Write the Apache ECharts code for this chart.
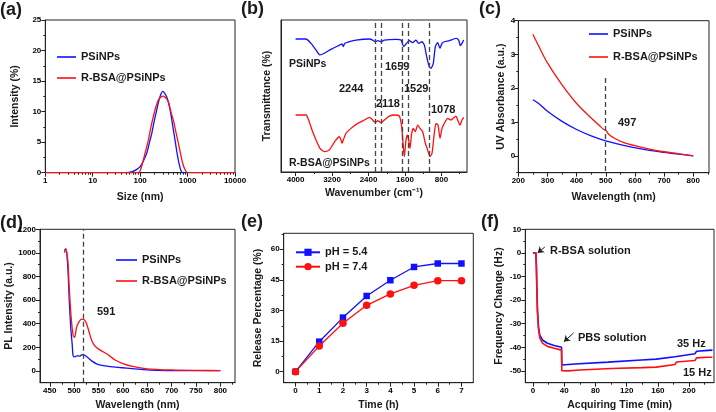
<!DOCTYPE html>
<html><head><meta charset="utf-8">
<script src="https://cdn.jsdelivr.net/npm/echarts@6/dist/echarts.min.js"></script>
<style>html,body{margin:0;padding:0;background:#fff}#c{width:716px;height:412px}</style>
</head><body><div id="c"></div>
<script>
// ---------- (a) DLS size distribution ----------
const aSizeBlue = [1, 50, 70, 85, 100, 115, 138, 160, 176, 200, 224, 250, 275, 300, 330, 364, 400, 442, 490, 545, 600, 661, 720, 792, 10000];
const aIntBlue  = [0, 0, 0.2, 0.55, 1.0, 1.8, 3.2, 5.2, 6.45, 8.6, 10.3, 11.9, 12.9, 13.3, 13.0, 12.4, 11.3, 9.7, 7.5, 5.3, 3.2, 1.5, 0.4, 0, 0];
const aSizeRed  = [1, 92, 105, 117, 130, 149, 170, 190, 215, 242, 275, 308, 350, 393, 445, 501, 570, 640, 720, 792, 870, 991, 10000];
const aIntRed   = [0, 0, 0.8, 2.1, 3.5, 5.35, 7.6, 9.2, 10.8, 11.9, 12.4, 12.55, 12.2, 11.6, 10.0, 8.6, 6.6, 4.8, 2.9, 1.5, 0.6, 0, 0];
const aYTicks = [0, 5, 10, 15, 20, 25];
const aYMinor = [2.5, 7.5, 12.5, 17.5, 22.5];
const aXMinor = [2,3,4,5,6,7,8,9,20,30,40,50,60,70,80,90,200,300,400,500,600,700,800,900,2000,3000,4000,5000,6000,7000,8000,9000];

// ---------- (b) FTIR ----------
const bWnBlue = [4000,3772,3662,3552,3465,3370,3223,3077,2982,2953,2923,2821,2675,2382,2309,2251,2199,2127,2053,1797,1688,1629,1578,1505,1432,1359,1300,1227,1176,1125,1066,1030,979,935,884,832,788,737,628,481,423,386,350,313];
const bTBlue  = [87.5,87.5,84.6,80.3,77.0,78.1,80.7,82.9,84.2,82.5,84.6,85.7,86.8,87.5,86.8,85.7,86.4,85.7,86.8,87.3,86.8,82.5,84.2,86.4,85.1,86.8,84.6,85.7,83.6,75.9,69.3,68.2,71.5,82.5,85.1,81.4,84.6,85.7,86.4,87.9,86.8,83.1,84.6,86.8];
const bWnRed  = [4000,3772,3713,3640,3552,3465,3370,3260,3187,3114,3041,3004,2982,2953,2894,2785,2638,2492,2382,2346,2309,2251,2199,2127,2053,1944,1834,1724,1673,1637,1615,1578,1549,1520,1490,1454,1417,1374,1322,1271,1212,1154,1103,1052,1008,957,920,876,832,788,737,664,591,481,445,394,350,313];
const bTRed   = [37.5,37.5,34.2,27.6,21.1,15.6,13.4,14.5,17.8,21.1,23.2,21.1,18.9,21.1,25.4,28.7,32.0,34.2,36.0,35.3,34.2,32.5,33.8,32.5,34.2,36.8,37.5,36.8,29.8,16.7,10.1,21.1,24.3,21.1,15.6,25.4,28.7,26.5,30.9,28.7,26.5,18.9,14.5,10.1,12.3,25.4,32.0,30.9,22.2,28.7,32.0,35.3,34.2,36.8,34.2,30.9,34.2,36.0];
const bPeaks  = [2244, 2118, 1659, 1529, 1078];
const bXTicks = [4000, 3200, 2400, 1600, 800];
const bXMinor = [3600, 2800, 2000, 1200, 400];

// ---------- (c) UV-Vis ----------
const cWlBlue = [250, 270, 300, 350, 400, 450, 500, 550, 600, 650, 700, 750, 800];
const cAbsBlue = [1.66, 1.55, 1.32, 1.02, 0.78, 0.59, 0.44, 0.33, 0.24, 0.16, 0.10, 0.05, 0.0];
const cWlRed  = [250, 270, 300, 350, 400, 450, 480, 495, 500, 510, 530, 560, 600, 650, 700, 750, 800];
const cAbsRed = [3.6, 3.25, 2.75, 2.1, 1.55, 1.12, 0.88, 0.77, 0.76, 0.64, 0.52, 0.40, 0.30, 0.20, 0.12, 0.06, 0.0];
const cPeak = 497;
const cXTicks = [200, 300, 400, 500, 600, 700, 800];
const cXMinor = [250, 350, 450, 550, 650, 750, 850];
const cYTicks = [0, 1, 2, 3, 4];
const cYMinor = [-0.5, 0.5, 1.5, 2.5, 3.5];

// ---------- (d) PL ----------
const dWlBlue = [480, 483, 487, 490, 493, 496, 498, 502, 505, 512, 515, 520, 526, 536, 546, 560, 580, 608, 642, 690, 800];
const dPlBlue = [1020, 1037, 880, 600, 370, 227, 128, 119, 128, 125, 135, 136, 119, 85, 60, 45, 34, 23, 11, 3, 2];
const dWlRed  = [480, 483, 487, 490, 494, 498, 501, 505, 510, 515, 520, 525, 530, 535, 540, 546, 556, 567, 575, 585, 600, 620, 650, 700, 750, 800];
const dPlRed  = [1000, 1030, 940, 700, 450, 300, 284, 370, 415, 438, 435, 405, 340, 270, 225, 199, 170, 145, 120, 90, 62, 38, 18, 8, 4, 3];
const dLine = 518;
const dXTicks = [450, 500, 550, 600, 650, 700, 750, 800];
const dXMinor = [475, 525, 575, 625, 675, 725, 775, 825];
const dYTicks = [0, 200, 400, 600, 800, 1000, 1200];
const dYMinor = [100, 300, 500, 700, 900, 1100];

// ---------- (e) release ----------
const eTime = [0, 1, 2, 3, 4, 5, 6, 7];
const eRel54 = [0, 14.7, 26.5, 37.1, 44.8, 51.3, 53.0, 53.0];
const eRel74 = [0, 12.6, 23.7, 32.5, 38.1, 42.3, 44.6, 44.6];
const eXTicks = [0, 1, 2, 3, 4, 5, 6, 7];
const eXMinor = [0.5, 1.5, 2.5, 3.5, 4.5, 5.5, 6.5];
const eYTicks = [0, 15, 30, 45, 60];
const eYMinor = [7.5, 22.5, 37.5, 52.5, 67.5];

// ---------- (f) QCM ----------
const fTBlue = [0, 3.5, 4.2, 4.7, 5.6, 6.9, 8.6, 12, 18.4, 27, 36.5, 36.8, 53.6, 96, 139, 158, 159.5, 182, 184, 207.5, 209.7, 224.6, 230];
const fFBlue = [0, 0, -5, -12.9, -24.2, -31.2, -34.8, -36.9, -38.3, -39.2, -40.0, -47.5, -47.1, -46.3, -45.4, -45.0, -44.6, -44.0, -43.2, -42.7, -41.7, -41.3, -41.2];
const fTRed  = [0, 3.5, 4.2, 4.7, 5.6, 6.9, 8.6, 12, 18.4, 27, 36.5, 36.8, 45, 60, 100, 140, 158, 159.5, 182, 184, 207.5, 209.7, 224.6, 230];
const fFRed  = [0, 0, -5.5, -13.5, -25, -32.3, -36, -38.2, -39.6, -40.4, -41.2, -49.9, -50.0, -49.6, -49.0, -48.6, -48.4, -47.9, -47.3, -46.2, -45.6, -44.5, -44.2, -44.2];
const fXTicks = [0, 40, 80, 120, 160, 200];
const fXMinor = [20, 60, 100, 140, 180, 220];
const fYTicks = [-50, -40, -30, -20, -10, 0, 10];
const fYMinor = [-45, -35, -25, -15, -5, 5];

const FF = '"Liberation Sans", Arial, sans-serif';
const BLUE = '#1010ff', RED = '#ff1010', INK = '#1a1a1a';
const zip = (xs, ys) => xs.map((x, i) => [x, ys[i]]);

const grids = [], xAxes = [], yAxes = [], series = [];
const nameStyle = {fontSize: 10.5, fontWeight: 'bold', color: INK, fontFamily: FF};
const lblStyle = {color: '#000', fontSize: 8, fontWeight: 'bold', fontFamily: FF};

function panel(o) {
  const gi = grids.length;
  grids.push({left: o.l, top: o.t, width: o.w, height: o.h, show: true, borderColor: '#222', borderWidth: 1, backgroundColor: 'rgba(0,0,0,0)'});
  const xi = xAxes.length, yi = yAxes.length;
  const xMaj = {
    gridIndex: gi, type: o.xType || 'value', min: o.xMin, max: o.xMax, inverse: !!o.xInv, position: 'bottom',
    axisLine: {show: true, onZero: false, lineStyle: {color: '#222', width: 1}},
    axisTick: {show: true, length: 4, lineStyle: {color: '#222'}},
    axisLabel: Object.assign({show: true, margin: 4, formatter: v => String(+v.toFixed(6))}, lblStyle),
    splitLine: {show: false},
    name: o.xName, nameLocation: 'middle', nameGap: o.xGap, nameTextStyle: nameStyle
  };
  if (o.xType === 'log') xMaj.logBase = 10;
  else { xMaj.axisTick.customValues = o.xMajor; xMaj.axisLabel.customValues = o.xMajor; }
  xAxes.push(xMaj);
  const xMin = {
    gridIndex: gi, type: o.xType || 'value', min: o.xMin, max: o.xMax, inverse: !!o.xInv, position: 'bottom',
    axisLine: {show: false, onZero: false}, axisLabel: {show: false}, splitLine: {show: false},
    axisTick: {show: true, length: 2, lineStyle: {color: '#222'}, customValues: o.xMinor}
  };
  if (o.xType === 'log') xMin.logBase = 10;
  xAxes.push(xMin);
  const yMaj = {
    gridIndex: gi, type: 'value', min: o.yMin, max: o.yMax, position: 'left',
    axisLine: {show: true, onZero: false, lineStyle: {color: '#222', width: 1}},
    axisTick: {show: !!o.yMajor, length: 4, lineStyle: {color: '#222'}, customValues: o.yMajor || []},
    axisLabel: Object.assign({show: !!o.yMajor, margin: o.yMargin || 4, customValues: o.yMajor || [], formatter: v => String(+v.toFixed(6))}, lblStyle),
    splitLine: {show: false},
    name: o.yName, nameLocation: 'middle', nameGap: o.yGap, nameTextStyle: nameStyle
  };
  yAxes.push(yMaj);
  yAxes.push({
    gridIndex: gi, type: 'value', min: o.yMin, max: o.yMax, position: 'left',
    axisLine: {show: false, onZero: false}, axisLabel: {show: false}, splitLine: {show: false},
    axisTick: {show: !!o.yMinor, length: 2, lineStyle: {color: '#222'}, customValues: o.yMinor || []}
  });
  return {xi, yi};
}

function line(ax, name, data, color, extra) {
  const s = Object.assign({
    type: 'line', name, data, xAxisIndex: ax.xi, yAxisIndex: ax.yi,
    symbol: 'none', showSymbol: false, color,
    lineStyle: {color, width: 1.3}, silent: true, animation: false
  }, extra || {});
  series.push(s);
  return s;
}
const dash = {type: [5, 3], color: '#444', width: 1.3};

// (a)
const A = panel({l: 45.3, t: 20, w: 189.7, h: 152.7, xType: 'log', xMin: 1, xMax: 10000, xMinor: aXMinor,
  yMin: 0, yMax: 25, yMajor: aYTicks, yMinor: aYMinor, xName: 'Size (nm)', xGap: 18.5, yName: 'Intensity (%)', yGap: 25});
line(A, 'PSiNPs', zip(aSizeBlue, aIntBlue), BLUE, {smooth: 0.3});
line(A, 'R-BSA@PSiNPs', zip(aSizeRed, aIntRed), RED, {smooth: 0.3});

// (b)
const B = panel({l: 281, t: 20, w: 186, h: 152, xMin: 240, xMax: 4320, xInv: true, xMajor: bXTicks, xMinor: bXMinor,
  yMin: 0, yMax: 100, xName: 'Wavenumber (cm⁻¹)', xGap: 16, yName: 'Transmittance (%)', yGap: 8});
line(B, 'b-PSiNPs', zip(bWnBlue, bTBlue), BLUE, {smooth: 0.2,
  markLine: {silent: true, symbol: 'none', label: {show: false}, lineStyle: dash, animation: false,
    data: bPeaks.map(v => ({xAxis: v}))}});
line(B, 'b-R-BSA@PSiNPs', zip(bWnRed, bTRed), RED, {smooth: 0.2});

// (c)
const C = panel({l: 518.3, t: 20.7, w: 190.7, h: 152, xMin: 200, xMax: 854, xMajor: cXTicks, xMinor: cXMinor,
  yMin: -0.5, yMax: 4, yMajor: cYTicks, yMinor: cYMinor, yMargin: 3, xName: 'Wavelength (nm)', xGap: 18.5, yName: 'UV Absorbance (a.u.)', yGap: 6});
line(C, 'PSiNPs', zip(cWlBlue, cAbsBlue), BLUE, {smooth: 0.4});
line(C, 'R-BSA@PSiNPs', zip(cWlRed, cAbsRed), RED, {smooth: 0.3,
  markLine: {silent: true, symbol: 'none', label: {show: false}, lineStyle: dash, animation: false,
    data: [[{coord: [cPeak, 2.3]}, {coord: [cPeak, -0.5]}]]}});

// (d)
const D = panel({l: 40, t: 229.3, w: 195, h: 153.4, xMin: 430, xMax: 830, xMajor: dXTicks, xMinor: dXMinor,
  yMin: -100, yMax: 1200, yMajor: dYTicks, yMinor: dYMinor, xName: 'Wavelength (nm)', xGap: 17, yName: 'PL Intensity (a.u.)', yGap: 22});
line(D, 'PSiNPs', zip(dWlBlue, dPlBlue), BLUE, {smooth: 0.25,
  markLine: {silent: true, symbol: 'none', label: {show: false}, lineStyle: dash, animation: false,
    data: [{xAxis: dLine}]}});
line(D, 'R-BSA@PSiNPs', zip(dWlRed, dPlRed), RED, {smooth: 0.25});

// (e)
const E = panel({l: 283.7, t: 233.3, w: 189.6, h: 149.4, xMin: -0.5, xMax: 7.5, xMajor: eXTicks, xMinor: eXMinor,
  yMin: -5.4, yMax: 67.8, yMajor: eYTicks, yMinor: eYMinor, xName: 'Time (h)', xGap: 17, yName: 'Release Percentage (%)', yGap: 20.5});
line(E, 'pH = 5.4', zip(eTime, eRel54), BLUE, {symbol: 'rect', symbolSize: 6.5, showSymbol: true, itemStyle: {color: BLUE}});
line(E, 'pH = 7.4', zip(eTime, eRel74), RED, {symbol: 'circle', symbolSize: 7.5, showSymbol: true, itemStyle: {color: RED}});

// (f)
const F = panel({l: 525.3, t: 229.3, w: 188.7, h: 153.4, xMin: -10, xMax: 232, xMajor: fXTicks, xMinor: fXMinor,
  yMin: -55, yMax: 10, yMajor: fYTicks, yMinor: fYMinor, xName: 'Acquiring Time (min)', xGap: 17, yName: 'Frequency Change (Hz)', yGap: 21});
line(F, 'f-35', zip(fTBlue, fFBlue), BLUE, {lineStyle: {color: BLUE, width: 1.6},
  markLine: {silent: true, symbol: ['none', 'arrow'], symbolSize: 6, label: {show: false}, animation: false,
    lineStyle: {type: 'solid', color: '#222', width: 1},
    data: [[{coord: [15, 2.5]}, {coord: [5.8, 0]}], [{coord: [52, -33.9]}, {coord: [39.5, -37.6]}]]}});
line(F, 'f-15', zip(fTRed, fFRed), RED, {lineStyle: {color: RED, width: 1.6}});

const legBase = {orient: 'vertical', padding: 0, itemHeight: 10, selectedMode: false,
  textStyle: {fontSize: 11, fontWeight: 'bold', color: INK, fontFamily: FF, lineHeight: 13}};
const lineLeg = {icon: 'rect', itemHeight: 1.6};
const legends = [
  Object.assign({}, legBase, lineLeg, {left: 57, top: 50.5, itemWidth: 19, itemGap: 8, data: ['PSiNPs', 'R-BSA@PSiNPs']}),
  Object.assign({}, legBase, lineLeg, {left: 589, top: 27.5, itemWidth: 19, itemGap: 10, data: ['PSiNPs', 'R-BSA@PSiNPs']}),
  Object.assign({}, legBase, lineLeg, {left: 116, top: 253.5, itemWidth: 21, itemGap: 8, data: ['PSiNPs', 'R-BSA@PSiNPs']}),
  Object.assign({}, legBase, {left: 295, top: 245.8, itemWidth: 24, itemHeight: 9, itemGap: 1.4, data: ['pH = 5.4', 'pH = 7.4']})
];

function txt(s, x, y, size) {
  return {type: 'text', x, y, silent: true,
    style: {text: s, fill: INK, font: 'bold ' + (size || 11) + 'px ' + FF, verticalAlign: 'middle'}};
}
const graphics = [
  txt('(a)', 0, 10, 18), txt('(b)', 241, 9, 18), txt('(c)', 479, 9, 18),
  txt('(d)', 0, 223, 18), txt('(e)', 241, 222, 18), txt('(f)', 481, 222, 18),
  txt('PSiNPs', 289, 64, 10.5), txt('1659', 385, 67), txt('2244', 339, 89), txt('1529', 404, 89),
  txt('2118', 376, 103.5), txt('1078', 431, 109.5), txt('R-BSA@PSiNPs', 289, 163.3, 10.5),
  txt('497', 618, 122.5), txt('591', 97, 312),
  txt('R-BSA solution', 550, 251), txt('PBS solution', 578, 337.5), txt('35 Hz', 677, 343.5), txt('15 Hz', 683, 372.5)
];

const chart = echarts.init(document.getElementById('c'), null, {renderer: 'canvas'});
chart.setOption({
  animation: false, backgroundColor: '#fff', textStyle: {fontFamily: FF},
  grid: grids, xAxis: xAxes, yAxis: yAxes, series, legend: legends, graphic: graphics
});
</script></body></html>
